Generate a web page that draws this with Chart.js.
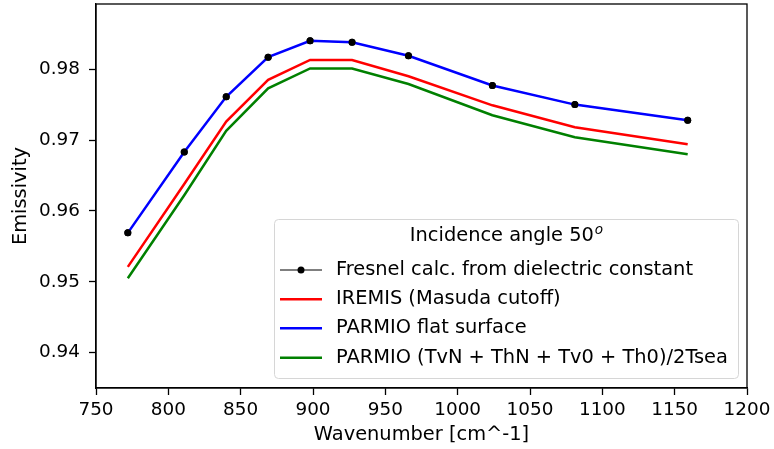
<!DOCTYPE html>
<html>
<head>
<meta charset="utf-8">
<script src="https://cdn.jsdelivr.net/npm/chart.js@4"></script>
<style>
  html, body { margin: 0; padding: 0; background: #fff; }
  #wrap { width: 774px; height: 449px; }
</style>
</head>
<body>
<div id="wrap"><canvas id="c" width="774" height="449"></canvas></div>
<script>
const wavenumbers = [772, 811, 840, 869, 898, 927, 966, 1024, 1081, 1159];
const fresnel     = [0.9569, 0.9683, 0.9761, 0.9817, 0.9840, 0.9838, 0.9819, 0.9777, 0.9750, 0.9728];
const iremis      = [0.9521, 0.9638, 0.9726, 0.9785, 0.9813, 0.9813, 0.9790, 0.9749, 0.9718, 0.9694];
const parmioFlat  = [0.9569, 0.9683, 0.9761, 0.9817, 0.9840, 0.9838, 0.9819, 0.9777, 0.9750, 0.9728];
const parmioMix   = [0.9505, 0.9622, 0.9713, 0.9773, 0.9801, 0.9801, 0.9779, 0.9735, 0.9704, 0.9680];
const xTicks = [750, 800, 850, 900, 950, 1000, 1050, 1100, 1150, 1200];
const yTicks = [0.94, 0.95, 0.96, 0.97, 0.98];
const seriesLabels = [
  'Fresnel calc. from dielectric constant',
  'IREMIS (Masuda cutoff)',
  'PARMIO flat surface',
  'PARMIO (TvN + ThN + Tv0 + Th0)/2Tsea'
];
const legendTitle = 'Incidence angle 50';
const legendTitleSup = 'o';

const FONT = 'DejaVu Sans';
const TICK_SIZE = 18.4;
const TEXT_SIZE = 19.4;
const pts = arr => wavenumbers.map((x, i) => ({x: x, y: arr[i]}));

const frameAndLegend = {
  id: 'frameAndLegend',
  afterDatasetsDraw(chart) {
    const ctx = chart.ctx;
    const meta = chart.getDatasetMeta(0);
    meta.data.forEach(p => p.draw(ctx, chart.chartArea));
    const a = chart.chartArea;
    ctx.save();
    ctx.strokeStyle = '#000';
    ctx.lineWidth = 1.3;
    ctx.strokeRect(a.left, a.top, a.right - a.left, a.bottom - a.top);
    ctx.restore();
  },
  afterDraw(chart) {
    const ctx = chart.ctx;
    const a = chart.chartArea;
    const bw = 464, bh = 159;
    const bx = a.right - 9 - bw, by = a.bottom - 10 - bh;
    ctx.save();
    ctx.beginPath();
    ctx.roundRect(bx + 0.5, by + 0.5, bw, bh, 4);
    ctx.fillStyle = 'rgba(255,255,255,0.8)';
    ctx.fill();
    ctx.strokeStyle = '#d6d6d6';
    ctx.lineWidth = 1;
    ctx.stroke();
    ctx.fillStyle = '#000';
    ctx.textBaseline = 'middle';
    const supFont = 'italic ' + (TEXT_SIZE * 0.7) + 'px "' + FONT + '"';
    ctx.font = TEXT_SIZE + 'px "' + FONT + '"';
    const tw = ctx.measureText(legendTitle).width;
    ctx.font = supFont;
    const sw = ctx.measureText(legendTitleSup).width;
    const tx = bx + bw / 2 - (tw + sw) / 2;
    ctx.font = TEXT_SIZE + 'px "' + FONT + '"';
    ctx.textAlign = 'left';
    ctx.fillText(legendTitle, tx, by + 17);
    ctx.font = supFont;
    ctx.fillText(legendTitleSup, tx + tw + 1, by + 11);
    const rowY = [51, 80.3, 109.3, 138.7];
    chart.data.datasets.forEach((ds, i) => {
      const y = by + rowY[i];
      ctx.beginPath();
      ctx.moveTo(bx + 6, y);
      ctx.lineTo(bx + 48, y);
      ctx.strokeStyle = ds.borderColor;
      ctx.lineWidth = ds.borderWidth;
      ctx.stroke();
      if (ds.pointRadius > 0) {
        ctx.beginPath();
        ctx.arc(bx + 27, y, ds.pointRadius, 0, Math.PI * 2);
        ctx.fillStyle = ds.pointBackgroundColor;
        ctx.fill();
      }
      ctx.fillStyle = '#000';
      ctx.font = TEXT_SIZE + 'px "' + FONT + '"';
      ctx.textAlign = 'left';
      ctx.fillText(ds.label, bx + 62, y);
    });
    ctx.restore();
  }
};

new Chart(document.getElementById('c'), {
  type: 'line',
  data: {
    datasets: [
      { label: seriesLabels[0], data: pts(fresnel), borderColor: '#000', borderWidth: 1,
        pointRadius: 3.5, pointBackgroundColor: '#000', pointBorderWidth: 0, order: 10 },
      { label: seriesLabels[1], data: pts(iremis), borderColor: '#ff0000', borderWidth: 2.5,
        pointRadius: 0, order: 3 },
      { label: seriesLabels[2], data: pts(parmioFlat), borderColor: '#0000ff', borderWidth: 2.5,
        pointRadius: 0, order: 2 },
      { label: seriesLabels[3], data: pts(parmioMix), borderColor: '#008000', borderWidth: 2.5,
        pointRadius: 0, order: 4 }
    ]
  },
  options: {
    responsive: false,
    animation: false,
    events: [],
    layout: { padding: { left: 0, right: 27, top: 4, bottom: 0 } },
    elements: { line: { tension: 0 } },
    plugins: { legend: { display: false }, tooltip: { enabled: false } },
    scales: {
      x: {
        type: 'linear', min: 750, max: 1200,
        afterFit: s => { s.height = 61; s.paddingLeft = 0; s.paddingRight = 0; },
        afterBuildTicks: s => { s.ticks = xTicks.map(v => ({value: v})); },
        ticks: { color: '#000', font: { family: FONT, size: TICK_SIZE }, padding: 4, maxRotation: 0,
                 callback: v => String(v) },
        grid: { drawOnChartArea: false, drawTicks: true, tickLength: 7, color: '#000', tickWidth: 1.3 },
        border: { display: true, color: '#000', width: 1.3 },
        title: { display: true, text: 'Wavenumber [cm^-1]', color: '#000',
                 font: { family: FONT, size: TEXT_SIZE }, padding: { top: 0, bottom: 2 } }
      },
      y: {
        type: 'linear', min: 0.935, max: 0.9892,
        afterFit: s => { s.width = 96; s.paddingTop = 0; s.paddingBottom = 0; },
        afterBuildTicks: s => { s.ticks = yTicks.map(v => ({value: v})); },
        ticks: { color: '#000', font: { family: FONT, size: TICK_SIZE }, padding: 9,
                 callback: v => v.toFixed(2) },
        grid: { drawOnChartArea: false, drawTicks: true, tickLength: 7, color: '#000', tickWidth: 1.3 },
        border: { display: true, color: '#000', width: 1.3 },
        title: { display: true, text: 'Emissivity', color: '#000',
                 font: { family: FONT, size: TEXT_SIZE }, padding: { top: 9, bottom: 0 } }
      }
    }
  },
  plugins: [frameAndLegend]
});
</script>
</body>
</html>
